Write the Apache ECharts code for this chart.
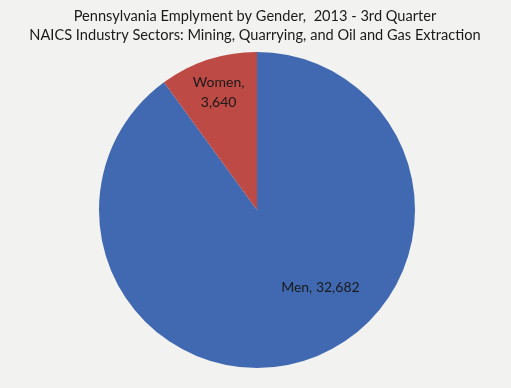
<!DOCTYPE html>
<html>
<head>
<meta charset="utf-8">
<script src="https://cdn.jsdelivr.net/npm/echarts@6/dist/echarts.min.js"></script>
<style>html,body{margin:0;padding:0;background:#f2f2f0;}#c{width:511px;height:388px;}</style>
</head>
<body>
<div id="c"></div>
<script>
const titleLines = ["Pennsylvania Emplyment by Gender,  2013 - 3rd Quarter", "NAICS Industry Sectors: Mining, Quarrying, and Oil and Gas Extraction"];
const categories = ["Men", "Women"];
const values = [32682, 3640];
const colors = ["#4169b1", "#bd4a45"];
const labelShift = [[38, 0], [-13, -40]];

const chart = echarts.init(document.getElementById('c'), null, {renderer: 'canvas'});
chart.setOption({
  backgroundColor: '#f2f2f0',
  animation: false,
  title: {
    text: titleLines.join('\n'),
    left: 250,
    textAlign: 'center',
    top: 2,
    textStyle: {fontFamily: 'Lato', fontSize: 14.6, fontWeight: 'normal', color: '#1a1a1a', lineHeight: 19}
  },
  series: [{
    type: 'pie',
    center: [257, 210],
    radius: 158,
    startAngle: 90,
    clockwise: true,
    silent: true,
    data: categories.map((c, i) => ({name: c, value: values[i], itemStyle: {color: colors[i]}})),
    label: {
      show: true,
      position: 'inside',
      fontFamily: 'Lato',
      fontSize: 14,
      color: '#1a1a1a',
      lineHeight: 20,
      formatter: p => p.dataIndex === 1 ? p.name + ',\n' + p.value.toLocaleString('en-US') : p.name + ', ' + p.value.toLocaleString('en-US')
    },
    labelLayout: p => ({dx: labelShift[p.dataIndex][0], dy: labelShift[p.dataIndex][1]}),
    labelLine: {show: false},
    itemStyle: {borderWidth: 0}
  }]
});
</script>
</body>
</html>
